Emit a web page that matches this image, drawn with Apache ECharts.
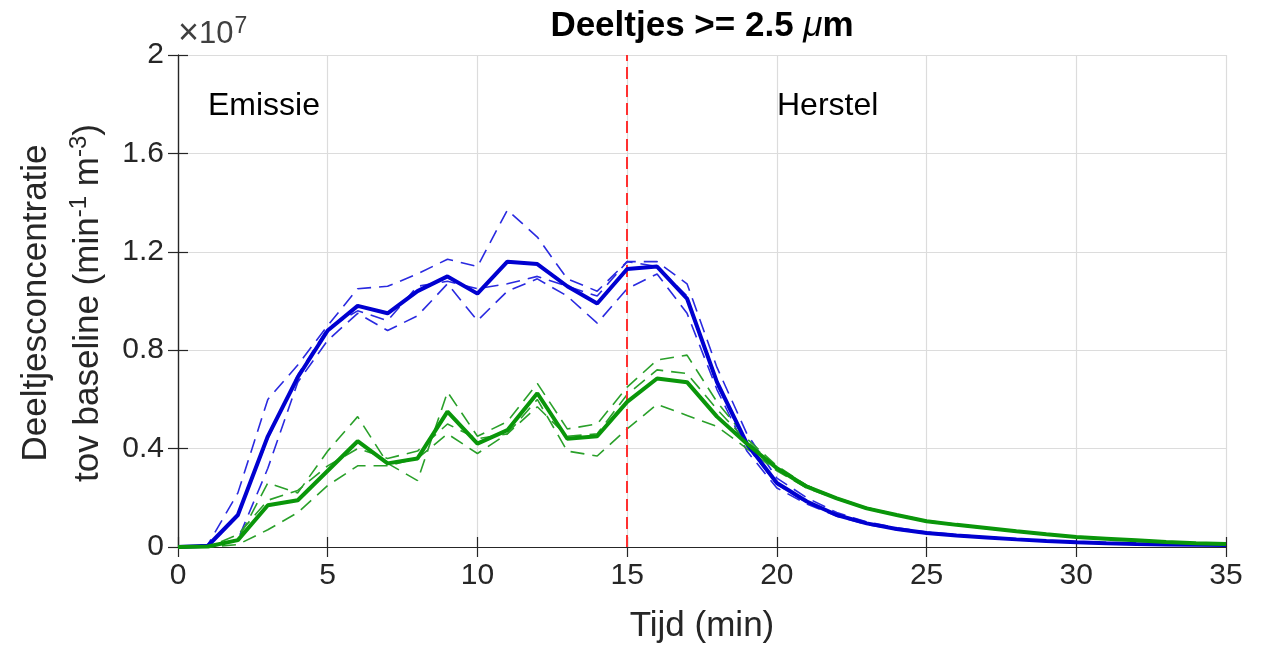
<!DOCTYPE html>
<html>
<head>
<meta charset="utf-8">
<script src="https://cdn.jsdelivr.net/npm/echarts@6/dist/echarts.min.js"></script>
<style>html,body{margin:0;padding:0;background:#fff}#c{width:1266px;height:649px}</style>
</head>
<body>
<div id="c"></div>
<script>
// Time (min)
const minutes = [0,1,2,3,4,5,6,7,8,9,10,11,12,13,14,15,16,17,18,19,20,21,22,23,24,25,26,27,28,29,30,31,32,33,34,35];
// values in units of 1e6 per min per m^3
const blueMean = [0,0.05,1.3,4.5,6.9,8.8,9.8,9.5,10.4,11.0,10.3,11.6,11.5,10.6,9.9,11.3,11.4,10.1,6.7,4.2,2.6,1.85,1.3,0.96,0.73,0.57,0.47,0.39,0.31,0.24,0.19,0.15,0.12,0.1,0.09,0.08];
const blueRep1 = [0,0.1,2.2,6.0,7.4,9.0,10.5,10.6,11.1,11.7,11.4,13.7,12.6,10.9,10.4,11.6,11.6,10.7,7.3,4.6,2.8,2.0,1.4,1.02,0.78,0.61,0.5,0.41,0.33,0.26,0.2,0.16,0.13,0.11,0.09,0.08];
const blueRep2 = [0,0,0.3,3.2,6.7,8.4,9.5,8.8,9.4,10.7,9.2,10.4,10.9,10.2,9.1,10.5,11.1,9.5,6.4,3.9,2.4,1.75,1.25,0.92,0.7,0.55,0.45,0.37,0.3,0.23,0.18,0.14,0.11,0.09,0.08,0.07];
const blueRep3 = [0,0,1.3,4.4,7.0,8.9,9.6,9.2,10.6,10.8,10.5,10.7,11.0,10.6,10.2,11.6,11.4,10.2,6.6,4.1,2.55,1.8,1.28,0.95,0.72,0.56,0.46,0.38,0.3,0.24,0.19,0.15,0.12,0.1,0.09,0.08];
const greenMean = [0,0.02,0.28,1.7,1.9,3.1,4.3,3.4,3.6,5.5,4.2,4.75,6.25,4.4,4.5,5.9,6.85,6.7,5.3,4.2,3.2,2.45,1.98,1.57,1.3,1.05,0.9,0.77,0.64,0.52,0.41,0.34,0.27,0.2,0.15,0.12];
const greenRep1 = [0,0,0.3,2.6,2.2,3.9,5.3,3.4,2.7,6.3,4.5,5.1,6.65,4.8,5.0,6.5,7.6,7.8,5.9,4.4,3.3,2.5,2.0,1.6,1.32,1.08,0.92,0.78,0.65,0.53,0.42,0.35,0.28,0.21,0.16,0.12];
const greenRep2 = [0,0,0.1,0.7,1.4,2.5,3.3,3.3,3.6,4.6,3.8,4.6,6.0,3.9,3.7,4.8,5.8,5.35,4.9,4.0,3.1,2.4,1.95,1.55,1.28,1.03,0.88,0.75,0.62,0.5,0.4,0.33,0.26,0.2,0.15,0.11];
const greenRep3 = [0,0,0.5,1.9,2.3,3.3,4.0,3.6,3.9,5.0,4.4,4.6,5.7,4.5,4.6,6.2,7.2,7.05,5.6,4.3,3.25,2.5,2.0,1.6,1.3,1.06,0.9,0.77,0.64,0.52,0.41,0.34,0.27,0.2,0.15,0.12];
const phaseBoundary = 15;
const phaseLabels = ['Emissie', 'Herstel'];

const FONT = '"Liberation Sans", Arial, Helvetica, sans-serif';
const TXT = '#262626';
const BLUE = '#0000d0', BLUE_D = '#2a2ae0', GREEN = '#0a960a', GREEN_D = '#2aa02a';

function pairs(ys){ return minutes.map((m,i)=>[m, ys[i]]); }
function dashed(name, ys, color){
  return {name, type:'line', data:pairs(ys), symbol:'none', silent:true, z:3,
    lineStyle:{color, width:1.6, type:[14,8]}};
}
function solid(name, ys, color){
  return {name, type:'line', data:pairs(ys), symbol:'none', silent:true, z:5,
    lineStyle:{color, width:4}};
}

const chart = echarts.init(document.getElementById('c'), null, {renderer:'canvas'});
const axisCommon = {
  axisLine:{show:true, lineStyle:{color:TXT, width:1.2}},
  axisTick:{show:true, inside:true, length:10, lineStyle:{color:TXT, width:1.2}},
};
chart.setOption({
  animation:false,
  backgroundColor:'#fff',
  grid:{left:178, right:40, top:55, bottom:102, containLabel:false, outerBoundsMode:'none'},
  xAxis:[
    Object.assign({type:'value', min:0, max:35, interval:5, position:'bottom',
      name:'Tijd (min)', nameLocation:'middle', nameGap:62,
      nameTextStyle:{fontFamily:FONT, fontSize:35, color:TXT},
      axisLabel:{fontFamily:FONT, fontSize:30, color:TXT, margin:14},
      splitLine:{show:true, lineStyle:{color:'#dcdcdc', width:1.2}}}, axisCommon),
    Object.assign({type:'value', min:0, max:35, interval:5, position:'top',
      axisLabel:{show:false}, splitLine:{show:false}}, axisCommon)
  ],
  yAxis:[
    Object.assign({type:'value', min:0, max:20, interval:4, position:'left',
      axisLabel:{fontFamily:FONT, fontSize:30, color:TXT, margin:14,
        formatter:v=>String(Math.round(v)/10)},
      splitLine:{show:true, lineStyle:{color:'#dcdcdc', width:1.2}}}, axisCommon),
    Object.assign({type:'value', min:0, max:20, interval:4, position:'right',
      axisLabel:{show:false}, splitLine:{show:false}}, axisCommon)
  ],
  series:[
    dashed('b1', blueRep1, BLUE_D), dashed('b2', blueRep2, BLUE_D), dashed('b3', blueRep3, BLUE_D),
    dashed('g1', greenRep1, GREEN_D), dashed('g2', greenRep2, GREEN_D), dashed('g3', greenRep3, GREEN_D),
    solid('blue', blueMean, BLUE), solid('green', greenMean, GREEN),
    {type:'line', data:[], silent:true,
      markLine:{silent:true, symbol:'none', label:{show:false}, animation:false,
        lineStyle:{color:'#ff3030', width:2, type:[12,6]},
        data:[{xAxis:phaseBoundary}]}}
  ],
  graphic:[
    {type:'text', x:702, y:26, style:{
      text:'{b|Deeltjes >= 2.5 }{mu|μ}{b|m}', align:'center', verticalAlign:'middle',
      rich:{b:{fontFamily:FONT, fontSize:35, fontWeight:'bold', fill:'#000'},
            mu:{fontFamily:FONT, fontSize:35, fontStyle:'italic', fill:'#000'}}}},
    {type:'text', x:178, y:34, style:{
      text:'{x|×}{a|10}{s|7}', verticalAlign:'middle',
      rich:{x:{fontFamily:FONT, fontSize:36, fill:'#404040'},
            a:{fontFamily:FONT, fontSize:31, fill:'#404040'},
            s:{fontFamily:FONT, fontSize:23, fill:'#404040', verticalAlign:'top', padding:[0,0,15,1]}}}},
    {type:'text', x:208, y:106, style:{text:phaseLabels[0], fontFamily:FONT, fontSize:32, fill:'#000', verticalAlign:'middle'}},
    {type:'text', x:777, y:106, style:{text:phaseLabels[1], fontFamily:FONT, fontSize:32, fill:'#000', verticalAlign:'middle'}},
    {type:'text', x:36, y:303, rotation:Math.PI/2, style:{
      text:'Deeltjesconcentratie', fontFamily:FONT, fontSize:35, fill:TXT, align:'center', verticalAlign:'middle'}},
    {type:'text', x:88, y:303, rotation:Math.PI/2, style:{
      text:'{n|tov baseline (min}{s|-1}{n| m}{s|-3}{n|)}', align:'center', verticalAlign:'middle',
      rich:{n:{fontFamily:FONT, fontSize:35, fill:TXT},
            s:{fontFamily:FONT, fontSize:24, fill:TXT, verticalAlign:'top', padding:[0,0,17,0]}}}}
  ]
});
</script>
</body>
</html>
